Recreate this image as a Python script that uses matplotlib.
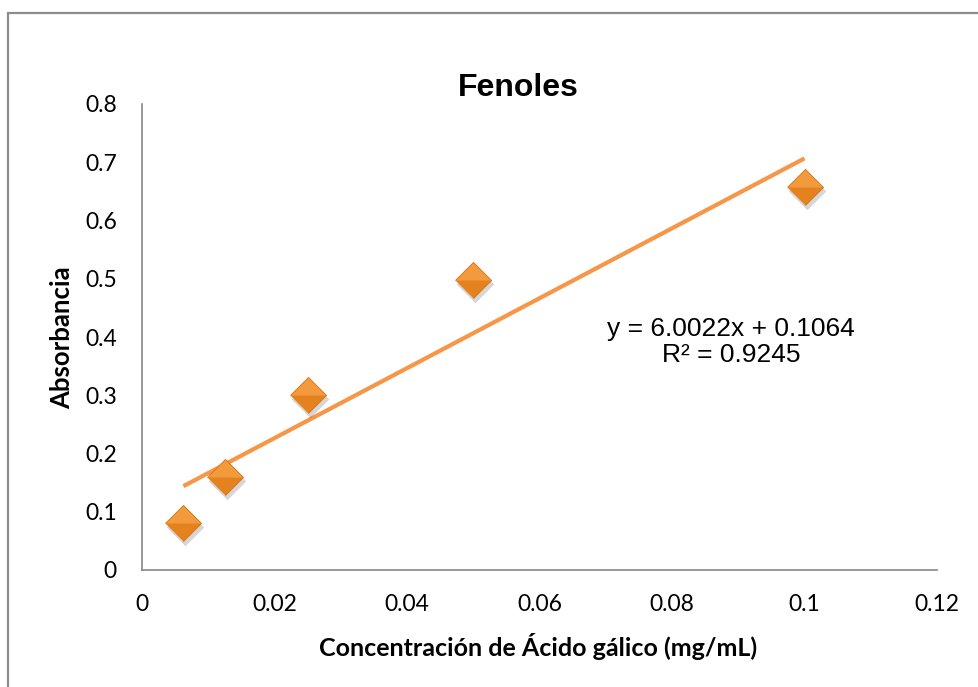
#!/usr/bin/env python3

import matplotlib
matplotlib.use("Agg")
import matplotlib.pyplot as plt
from matplotlib.patches import Rectangle
from matplotlib.transforms import offset_copy


# Calibration data
conc_mg_ml = [0.00625, 0.0125, 0.025, 0.05, 0.1]
absorbance = [0.081, 0.159, 0.301, 0.497, 0.657]

SLOPE = 6.0022
INTERCEPT = 0.1064
R_SQUARED = 0.9245

X_TICKS = [0, 0.02, 0.04, 0.06, 0.08, 0.1, 0.12]
X_TICK_LABELS = ["0", "0.02", "0.04", "0.06", "0.08", "0.1", "0.12"]
Y_TICKS = [0, 0.1, 0.2, 0.3, 0.4, 0.5, 0.6, 0.7, 0.8]
Y_TICK_LABELS = ["0", "0.1", "0.2", "0.3", "0.4", "0.5", "0.6", "0.7", "0.8"]

TITLE = "Fenoles"
X_LABEL = "Concentración de Ácido gálico (mg/mL)"
Y_LABEL = "Absorbancia"

TICK_FONT = "Lato"
LABEL_FONT = "Lato"
TEXT_FONT = "Liberation Sans"

TREND_COLOR = "#F79646"
MARKER_DARK = "#E3821E"
MARKER_LIGHT = "#F39B3C"
SPINE_COLOR = "#868686"

DIAMOND = [(-1, 0), (0, 1), (1, 0), (0, -1)]
TOP_HALF = [(-1, 0), (0, 1), (1, 0), (0, -1.0e-9)]


def main():
    fig = plt.figure(figsize=(9.79, 6.87), dpi=100)
    fig.patch.set_facecolor("white")

    # outer chart border (only top and left edges fall inside the image)
    fig.patches.append(Rectangle((8 / 979, -0.2), 1.3, 1.2 - 13 / 687,
                                 transform=fig.transFigure, fill=False,
                                 edgecolor="#8C8C8C", linewidth=1.6))

    ax = fig.add_axes([142 / 979, 117 / 687, 795 / 979, 466 / 687])
    ax.set_xlim(0, 0.12)
    ax.set_ylim(0, 0.8)

    for side in ("top", "right"):
        ax.spines[side].set_visible(False)
    for side in ("left", "bottom"):
        ax.spines[side].set_color(SPINE_COLOR)
        ax.spines[side].set_linewidth(1.2)

    ax.set_xticks(X_TICKS)
    ax.set_xticklabels(X_TICK_LABELS, fontfamily=TICK_FONT, fontsize=16.5)
    ax.set_yticks(Y_TICKS)
    ax.set_yticklabels(Y_TICK_LABELS, fontfamily=TICK_FONT, fontsize=16.5)
    ax.tick_params(axis="x", length=0, pad=17)
    ax.tick_params(axis="y", length=0, pad=18)

    # trendline from the fitted equation over the data range
    x_fit = [min(conc_mg_ml), max(conc_mg_ml)]
    y_fit = [SLOPE * x + INTERCEPT for x in x_fit]
    ax.plot(x_fit, y_fit, color=TREND_COLOR, linewidth=3.0,
            solid_capstyle="butt", zorder=2)

    # shaded diamond markers with a soft drop shadow
    shadow = offset_copy(ax.transData, fig=fig, x=2, y=-4, units="dots")
    ax.plot(conc_mg_ml, absorbance, linestyle="none", marker=DIAMOND,
            markersize=27, markerfacecolor="#000000", markeredgewidth=0,
            alpha=0.16, transform=shadow, zorder=3)
    ax.plot(conc_mg_ml, absorbance, linestyle="none", marker=DIAMOND,
            markersize=26, markerfacecolor=MARKER_DARK,
            markeredgecolor="#CF7416", markeredgewidth=0.6, zorder=4)
    ax.plot(conc_mg_ml, absorbance, linestyle="none", marker=TOP_HALF,
            markersize=25, markerfacecolor=MARKER_LIGHT, markeredgewidth=0,
            zorder=5)

    fig.text(518 / 979, 1 - 88 / 687, TITLE, ha="center", va="center",
             fontfamily=TEXT_FONT, fontweight="bold", fontsize=23)
    fig.text(538 / 979, 1 - 647 / 687, X_LABEL, ha="center", va="center",
             fontfamily=LABEL_FONT, fontweight="bold", fontsize=18)
    fig.text(62 / 979, 1 - 338 / 687, Y_LABEL, ha="center", va="center",
             rotation=90, fontfamily=LABEL_FONT, fontweight="bold",
             fontsize=18.5)

    eq_text = f"y = {SLOPE:.4f}x + {INTERCEPT:.4f}\nR² = {R_SQUARED:.4f}"
    fig.text(731 / 979, 1 - 342 / 687, eq_text, ha="center", va="center",
             fontfamily=TEXT_FONT, fontsize=19, linespacing=1.15)

    fig.savefig("out.png", dpi=100, facecolor="white")
    plt.close(fig)


if __name__ == "__main__":
    main()
